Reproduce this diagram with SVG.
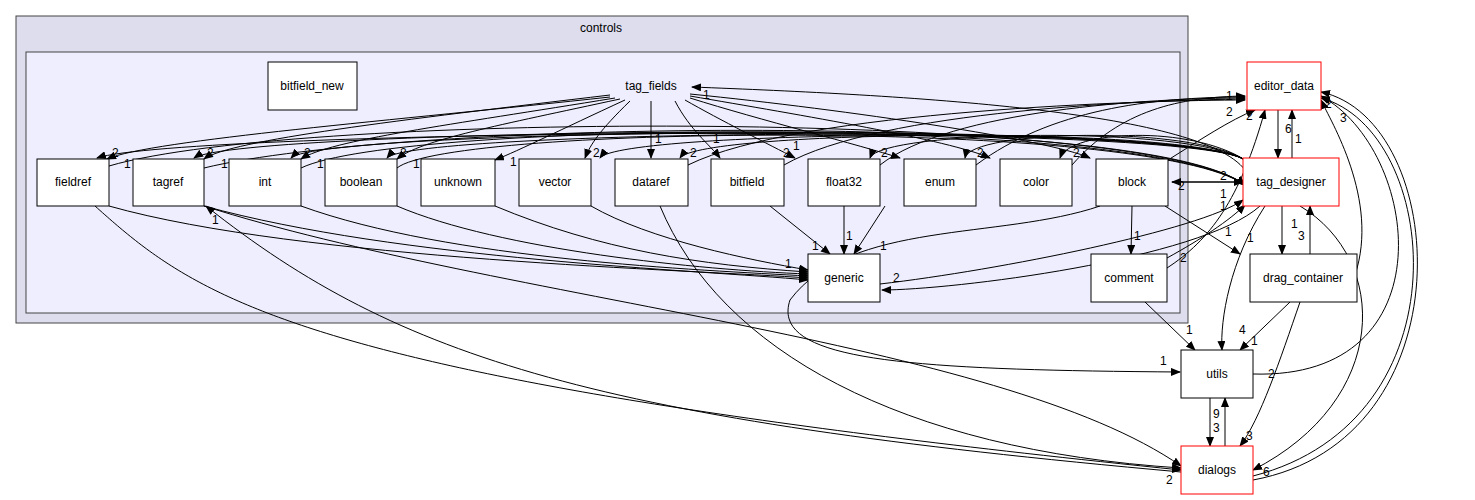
<svg xmlns="http://www.w3.org/2000/svg" width="1475" height="500" viewBox="0 0 1475 500">
<style>
text{font-family:"Liberation Sans",Arial,sans-serif;font-size:12px;fill:#000}
.n{fill:#fff;stroke:#000;stroke-width:1}
.r{fill:#fff;stroke:#f00;stroke-width:1}
.e path{fill:none;stroke:#000;stroke-width:1;marker-end:url(#a)}
.l{font-size:11px}
</style>
<defs><marker id="a" markerWidth="10" markerHeight="8" refX="9" refY="4" orient="auto" markerUnits="userSpaceOnUse"><path d="M0,0 L10,4 L0,8 z" fill="#000"/></marker></defs>
<rect width="1475" height="500" fill="#fff"/>
<g id="controls"><rect x="16" y="16" width="1172" height="307" fill="#ddddee" stroke="#444"/><text x="601" y="32" text-anchor="middle">controls</text></g>
<g id="inner"><rect x="26" y="52" width="1154" height="261" fill="#eeeeff" stroke="#444"/></g>
<g class="e" id="edges">
<path d="M610,97 C400,120 150,140 107,159"/>
<path d="M610,95 C400,120 230,140 204,159"/>
<path d="M615,98 C450,125 330,140 301,159"/>
<path d="M620,99 C500,125 420,140 397,159"/>
<path d="M625,100 C560,130 520,150 495,160"/>
<path d="M630,101 C600,130 590,145 585,158"/>
<path d="M651,101 L651,158"/>
<path d="M675,101 C690,130 710,145 720,158"/>
<path d="M685,100 C720,120 770,145 795,158"/>
<path d="M690,98 C760,120 860,145 900,158"/>
<path d="M690,96 C800,115 950,140 990,158"/>
<path d="M690,94 C850,110 1050,140 1090,158"/>
<path d="M1245,170 C1200,110 900,95 692,87"/>
<path d="M1245,160 C1190,120 180,130 97,158"/>
<path d="M1245,160 C1190,118 240,128 194,158"/>
<path d="M1245,160 C1190,120 320,128 291,158"/>
<path d="M1245,160 C1190,122 410,130 387,158"/>
<path d="M1245,160 C1190,125 620,130 600,158"/>
<path d="M1245,160 C1190,125 700,130 680,158"/>
<path d="M1245,160 C1190,125 880,130 870,158"/>
<path d="M1245,160 C1190,125 970,130 965,158"/>
<path d="M1245,160 C1190,125 1070,130 1060,158"/>
<path d="M204,168 C400,120 1150,110 1245,185"/>
<path d="M301,168 C400,120 1150,115 1245,185"/>
<path d="M397,168 C450,125 1150,118 1245,185"/>
<path d="M109,166 C300,110 1150,110 1245,185"/>
<path d="M688,165 C800,110 1150,100 1245,100"/>
<path d="M784,165 C880,110 1150,100 1245,99"/>
<path d="M880,165 C950,110 1150,98 1245,98"/>
<path d="M976,165 C1050,110 1150,97 1245,97"/>
<path d="M1072,165 C1120,110 1180,97 1245,96"/>
<path d="M1168,160 C1200,140 1230,120 1255,110"/>
<path d="M109,206 C300,260 700,270 808,278"/>
<path d="M301,206 C450,260 700,270 808,276"/>
<path d="M397,206 C500,250 700,270 808,274"/>
<path d="M495,206 C600,250 700,265 808,272"/>
<path d="M591,206 C650,240 750,260 808,270"/>
<path d="M204,206 C400,260 700,270 808,280"/>
<path d="M770,206 L830,254"/>
<path d="M844,206 L844,254"/>
<path d="M885,206 L854,254"/>
<path d="M1132,206 L1131,254"/>
<path d="M1172,182 L1243,182"/>
<path d="M1243,182 L1172,182"/>
<path d="M1165,206 L1240,254"/>
<path d="M1100,206 C1000,240 850,220 790,300 C770,360 900,370 1180,372"/>
<path d="M1167,258 C1200,240 1230,220 1245,205"/>
<path d="M1145,302 L1195,350"/>
<path d="M1167,268 C1210,240 1240,200 1265,110"/>
<path d="M880,284 C1000,270 1200,230 1243,200"/>
<path d="M1260,206 C1200,260 950,290 882,290"/>
<path d="M1278,110 L1278,158"/>
<path d="M1292,158 L1292,110"/>
<path d="M1282,206 L1282,254"/>
<path d="M1310,254 L1310,206"/>
<path d="M1265,206 C1230,260 1220,320 1222,350"/>
<path d="M1300,206 C1390,260 1390,400 1253,470"/>
<path d="M1290,302 L1240,350"/>
<path d="M1300,302 C1280,360 1260,420 1240,446"/>
<path d="M1253,374 C1450,380 1420,150 1321,96"/>
<path d="M1210,398 L1210,446"/>
<path d="M1225,446 L1225,398"/>
<path d="M1253,480 C1470,440 1450,120 1321,92"/>
<path d="M1253,476 C1470,420 1440,130 1321,98"/>
<path d="M95,206 C200,300 300,380 1181,470"/>
<path d="M1181,472 C600,420 400,360 206,206"/>
<path d="M204,206 C500,300 1000,340 1181,466"/>
<path d="M660,206 C720,350 900,450 1181,468"/>
<path d="M1355,275 C1380,200 1330,120 1321,100"/>
</g>
<g id="bitfield_new"><rect class="n" x="268" y="62" width="89" height="48"/><text x="312" y="90" text-anchor="middle">bitfield_new</text></g>
<g id="tag_fields"><text x="651" y="90" text-anchor="middle">tag_fields</text></g>
<g id="fieldref"><rect class="n" x="37" y="159" width="72" height="47"/><text x="73" y="186" text-anchor="middle">fieldref</text></g>
<g id="tagref"><rect class="n" x="133" y="159" width="71" height="47"/><text x="168" y="186" text-anchor="middle">tagref</text></g>
<g id="int"><rect class="n" x="229" y="159" width="72" height="47"/><text x="265" y="186" text-anchor="middle">int</text></g>
<g id="boolean"><rect class="n" x="325" y="159" width="72" height="47"/><text x="361" y="186" text-anchor="middle">boolean</text></g>
<g id="unknown"><rect class="n" x="421" y="159" width="74" height="47"/><text x="458" y="186" text-anchor="middle">unknown</text></g>
<g id="vector"><rect class="n" x="519" y="159" width="72" height="47"/><text x="555" y="186" text-anchor="middle">vector</text></g>
<g id="dataref"><rect class="n" x="615" y="159" width="73" height="47"/><text x="651" y="186" text-anchor="middle">dataref</text></g>
<g id="bitfield"><rect class="n" x="711" y="159" width="73" height="47"/><text x="747" y="186" text-anchor="middle">bitfield</text></g>
<g id="float32"><rect class="n" x="808" y="159" width="72" height="47"/><text x="844" y="186" text-anchor="middle">float32</text></g>
<g id="enum"><rect class="n" x="904" y="159" width="72" height="47"/><text x="940" y="186" text-anchor="middle">enum</text></g>
<g id="color"><rect class="n" x="1000" y="159" width="72" height="47"/><text x="1036" y="186" text-anchor="middle">color</text></g>
<g id="block"><rect class="n" x="1096" y="159" width="72" height="47"/><text x="1132" y="186" text-anchor="middle">block</text></g>
<g id="generic"><rect class="n" x="808" y="254" width="72" height="48"/><text x="844" y="282" text-anchor="middle">generic</text></g>
<g id="comment"><rect class="n" x="1091" y="254" width="76" height="48"/><text x="1129" y="282" text-anchor="middle">comment</text></g>
<g id="editor_data"><rect class="r" x="1247" y="62" width="74" height="48"/><text x="1284" y="90" text-anchor="middle">editor_data</text></g>
<g id="tag_designer"><rect class="r" x="1243" y="158" width="96" height="48"/><text x="1291" y="186" text-anchor="middle">tag_designer</text></g>
<g id="drag_container"><rect class="n" x="1250" y="254" width="107" height="48"/><text x="1303" y="282" text-anchor="middle">drag_container</text></g>
<g id="utils"><rect class="n" x="1181" y="350" width="72" height="48"/><text x="1217" y="378" text-anchor="middle">utils</text></g>
<g id="dialogs"><rect class="r" x="1181" y="446" width="72" height="48"/><text x="1217" y="474" text-anchor="middle">dialogs</text></g>
<g id="labels" class="l">
<text x="112" y="157">2</text><text x="124" y="168">1</text>
<text x="207" y="157">2</text><text x="221" y="168">1</text>
<text x="304" y="157">2</text><text x="317" y="168">1</text>
<text x="400" y="157">2</text><text x="413" y="168">1</text>
<text x="510" y="166">1</text><text x="593" y="157">2</text>
<text x="655" y="143">1</text><text x="690" y="157">2</text>
<text x="713" y="143">1</text><text x="783" y="157">2</text>
<text x="793" y="150">1</text><text x="881" y="157">2</text>
<text x="977" y="157">2</text><text x="1073" y="157">2</text>
<text x="703" y="99">1</text><text x="212" y="224">1</text>
<text x="812" y="250">1</text><text x="846" y="240">1</text><text x="880" y="250">1</text>
<text x="785" y="268">1</text><text x="893" y="282">2</text>
<text x="1134" y="240">1</text><text x="1180" y="262">2</text>
<text x="1220" y="180">2</text><text x="1178" y="190">2</text>
<text x="1220" y="198">1</text><text x="1220" y="210">1</text>
<text x="1226" y="100">1</text><text x="1226" y="116">2</text><text x="1246" y="120">2</text>
<text x="1225" y="236">1</text><text x="1247" y="242">1</text>
<text x="1285" y="133">6</text><text x="1295" y="143">1</text>
<text x="1291" y="228">1</text><text x="1298" y="240">3</text>
<text x="1325" y="108">2</text><text x="1340" y="122">3</text>
<text x="1186" y="334">1</text><text x="1239" y="334">4</text><text x="1251" y="345">1</text>
<text x="1160" y="365">1</text><text x="1268" y="378">2</text>
<text x="1213" y="418">9</text><text x="1213" y="432">3</text>
<text x="1246" y="440">3</text><text x="1263" y="476">6</text><text x="1166" y="484">2</text>
</g>
</svg>
